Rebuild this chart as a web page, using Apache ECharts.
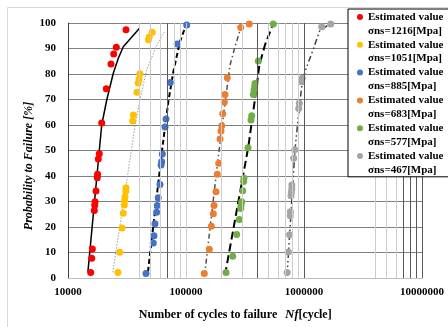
<!DOCTYPE html>
<html><head><meta charset="utf-8">
<script src="https://cdn.jsdelivr.net/npm/echarts@6/dist/echarts.min.js"></script>
<style>html,body{margin:0;padding:0;background:#fff}#c{width:448px;height:327px}</style>
</head><body><div id="c"></div>
<script>
// ---- data (cycles N, probability %) ----
const seriesNames = ['σns=1216[Mpa]','σns=1051[Mpa]','σns=885[Mpa]','σns=683[Mpa]','σns=577[Mpa]','σns=467[Mpa]'];
const seriesColors = ['#FF0000','#FFC000','#4472C4','#ED7D31','#70AD47','#A5A5A5'];

const redN = [15570,15880,16070,16710,16840,16940,17270,17720,17800,18060,18420,19310,21120,23140,24400,25670,31010];
const redP = [2.2,7.7,11.4,26.5,28.5,29.9,34.1,39.3,40.7,46.7,48.7,60.8,74.2,83.9,87.8,90.5,97.4];

const yellowN = [26500,27400,28700,29400,30000,30200,30400,30900,31000,35300,35800,38400,39400,40000,40700,48100,48800,51800];
const yellowP = [2.2,10.1,19.6,25.4,28.6,30.3,31.9,34.1,35.4,61.6,63.9,72.8,76.5,78.0,80.1,93.4,94.5,96.4];

const blueN = [45800,52800,53500,54600,56400,57100,58200,60200,61500,62200,63000,66400,67700,73600,84300,101400];
const blueP = [1.8,13.7,16.6,21.3,25.8,28.4,31.5,36.7,44.3,45.6,48.6,59.2,62.4,76.7,91.8,99.2];

const orangeN = [142900,157600,163900,170400,172700,179600,184200,189300,194200,198000,200700,204700,211200,214100,223900,290800,343900];
const orangeP = [1.8,11.3,20.3,25.2,28.4,33.8,40.7,45.0,54.5,57.6,59.7,64.4,68.9,72.0,78.5,98.2,99.6];

const greenN = [218300,248800,268900,282900,290800,292500,296500,302300,308000,310000,335300,355500,360400,371800,376900,382100,384300,410000,549400];
const greenP = [2.2,8.5,17.1,22.9,27.3,28.4,29.9,34.2,37.8,39.1,51.1,62.0,63.6,72.0,73.7,75.0,76.3,85.1,99.6];

const grayN = [720500,736200,755000,765600,767000,775800,780400,788000,789000,817800,834000,901700,912400,956000,967400,1413000,1684000];
const grayP = [2.2,10.2,17.0,24.4,26.0,32.3,33.5,35.0,36.5,47.0,50.3,66.5,68.5,77.0,78.3,98.5,99.6];

// fitted curves
const redFitN = [14760,19300,21290,24200,26700,29400,40200];
const redFitP = [2.5,60,69.8,80.3,86.2,90.7,97.8];
const yellowFitN = [23950,34670,37000,40700,46400,49500,56700,66400];
const yellowFitP = [2.2,50.9,60,69.8,81.6,84.8,91.4,96.9];
const blueFitN = [47600,63000,70800,78100,88900,101400];
const blueFitP = [2.4,50.9,69.1,80.9,92.7,99.9];
const orangeFitN = [143500,187800,214100,236000,260200,290800];
const orangeFitP = [0.8,47.6,68.5,83.5,90.7,98.0];
const greenFitN = [214100,337300,397300,418100,467100,549400];
const greenFitP = [1.2,51.4,75.0,83.5,91.4,99.9];
const grayFitN = [717800,838800,894800,956000,1019800,1162700,1366700,1717000];
const grayFitP = [0.8,50.2,63.3,75.0,80.9,88.1,97.3,99.9];

// vertical grid lines (as drawn in reference)
const lightGridX = [40000,50000,60000,80000,90000,100000,200000,300000,500000,600000,700000,800000,900000,4000000,5000000,6000000];
const darkGridX = [70000,400000,1000000,7000000,8000000,9000000,10000000];
const yTicks = {min:0, max:100, interval:10};

const zip = (a,b) => a.map((v,i)=>[v,b[i]]);
const pts = [zip(redN,redP),zip(yellowN,yellowP),zip(blueN,blueP),zip(orangeN,orangeP),zip(greenN,greenP),zip(grayN,grayP)];
const fits = [zip(redFitN,redFitP),zip(yellowFitN,yellowFitP),zip(blueFitN,blueFitP),zip(orangeFitN,orangeFitP),zip(greenFitN,greenFitP),zip(grayFitN,grayFitP)];
const fitStyles = [
  {color:'#000000', width:1.5, type:'solid'},
  {color:'#a0a0a0', width:1, type:[1.5,1.5]},
  {color:'#000000', width:2, type:[5,3]},
  {color:'#505050', width:1.5, type:[5,3,1.5,3]},
  {color:'#000000', width:2, type:[8,4]},
  {color:'#404040', width:1.5, type:[6,3,1.5,3,1.5,3]}
];

const serif = 'Liberation Serif';
const series = [];
series.push({
  type:'line', data:[], z:1, silent:true, symbol:'none',
  markLine:{silent:true, symbol:'none', label:{show:false}, animation:false,
    data: lightGridX.map(v=>({xAxis:v, lineStyle:{color:'#cccccc', width:1, type:'solid'}}))
      .concat(darkGridX.map(v=>({xAxis:v, lineStyle:{color:'#595959', width:1, type:'solid'}})))
  }
});
fits.forEach((d,i)=>series.push({type:'line', data:d, symbol:'none', z:2, silent:true, lineStyle:fitStyles[i]}));
pts.forEach((d,i)=>series.push({type:'scatter', name:seriesNames[i], data:d, symbol:'circle', symbolSize:7, z:3, itemStyle:{color:seriesColors[i], opacity:1}}));

const chart = echarts.init(document.getElementById('c'), null, {renderer:'canvas'});
chart.setOption({
  animation:false,
  backgroundColor:'#ffffff',
  grid:{left:68, right:26, top:23, bottom:49, containLabel:false},
  xAxis:{type:'log', logBase:10, min:10000, max:10000000,
    axisLine:{show:true, onZero:false, lineStyle:{color:'#bfbfbf', width:1}},
    axisTick:{show:false},
    axisLabel:{color:'#000', fontFamily:serif, fontWeight:'bold', fontSize:11, margin:9, formatter:v=>String(Math.round(v))},
    splitLine:{show:false}, minorSplitLine:{show:false}
  },
  yAxis:{type:'value', min:yTicks.min, max:yTicks.max, interval:yTicks.interval,
    axisLine:{show:true, lineStyle:{color:'#404040', width:1}},
    axisTick:{show:false},
    axisLabel:{color:'#000', fontFamily:serif, fontWeight:'bold', fontSize:11, margin:12},
    splitLine:{show:true, lineStyle:{color:'#808080', width:1}}
  },
  legend:{
    orient:'vertical', left:348, top:9, z:10, data:seriesNames,
    backgroundColor:'#ffffff', borderColor:'#000000', borderWidth:1,
    padding:[1,60,0,9], itemGap:0, itemWidth:6, itemHeight:27.8,
    icon:'path://M0,0h0.01M6,27.8h0.01M0,7a3,3 0 1,0 6,0a3,3 0 1,0 -6,0z',
    itemStyle:{borderWidth:0},
    formatter:n=>'Estimated value\n'+n,
    textStyle:{color:'#000', fontFamily:serif, fontWeight:'bold', fontSize:11, lineHeight:13.9},
    selectedMode:false
  },
  graphic:[
    {type:'rect', shape:{x:7.5, y:7.5, width:460, height:340}, style:{fill:'none', stroke:'#d9d9d9', lineWidth:1}, z:-10, silent:true},
    {type:'text', x:29, y:166, rotation:Math.PI/2, style:{text:'Probability to Failure [%]', fill:'#000', font:'italic bold 12px "Liberation Serif"', textAlign:'center', textVerticalAlign:'middle'}},
    {type:'text', x:208, y:315, style:{text:'Number of cycles to failure', fill:'#000', font:'bold 12px "Liberation Serif"', textAlign:'center', textVerticalAlign:'middle'}},
    {type:'text', x:285, y:315, style:{text:'{i|N}{f|f}{n|[cycle]}', textVerticalAlign:'middle', textAlign:'left',
      rich:{i:{fontFamily:serif, fontStyle:'italic', fontWeight:'bold', fontSize:13, fill:'#000'},
            f:{fontFamily:serif, fontStyle:'italic', fontWeight:'bold', fontSize:12, fill:'#000'},
            n:{fontFamily:serif, fontWeight:'bold', fontSize:12, fill:'#000'}}}}
  ],
  series:series
});
</script></body></html>
